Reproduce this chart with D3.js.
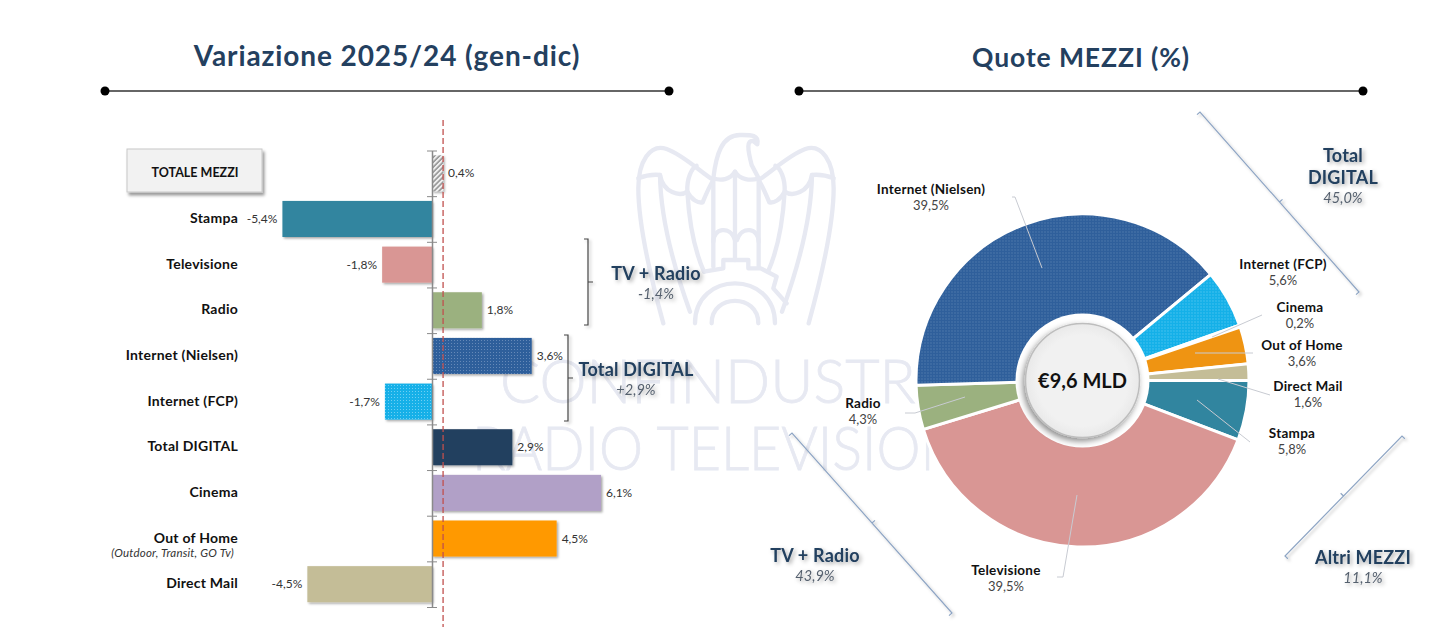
<!DOCTYPE html>
<html lang="it">
<head>
<meta charset="UTF-8">
<title>Variazione 2025/24 e quote mezzi</title>
<script src="https://d3js.org/d3.v7.min.js"></script>
<style>
    html, body { margin: 0; padding: 0; background: #fff; }
    svg { display: block; font-family: Lato, "Open Sans", sans-serif; }
    .cat { font-size: 14px; font-weight: 700; fill: #111; text-anchor: end; letter-spacing: 0.25px; }
    .val { font-size: 12px; fill: #333; }
    .title { font-weight: 700; fill: #24405f; text-anchor: middle; letter-spacing: 0.9px; }
    .grp { font-size: 18px; font-weight: 700; fill: #24405f; text-anchor: middle; letter-spacing: 0.2px; }
    .grpv { font-size: 14.5px; font-style: italic; fill: #55606e; text-anchor: middle; }
    .pname { font-size: 13.5px; font-weight: 700; fill: #111; text-anchor: middle; letter-spacing: 0.25px; }
    .pval { font-size: 13px; fill: #444; text-anchor: middle; }
    .mark { fill: none; stroke: #e7e9f2; stroke-width: 13; stroke-linejoin: round; stroke-linecap: round; }
    .wmtext { font-size: 62px; font-weight: 300; fill: #e7e9f2; stroke: #e7e9f2; stroke-width: 0.8; }
</style>
</head>
<body>
<div id="chart"></div>
<script>
    // left chart
    const categories = ["TOTALE MEZZI", "Stampa", "Televisione", "Radio", "Internet (Nielsen)", "Internet (FCP)", "Total DIGITAL", "Cinema", "Out of Home", "Direct Mail"];
    const variation = [0.4, -5.4, -1.8, 1.8, 3.6, -1.7, 2.9, 6.1, 4.5, -4.5];
    const barColors = ["url(#hatch)", "#31859f", "#d99694", "#9bb17f", "url(#dotsBlue)", "url(#dotsSky)", "#24405f", "#b1a0c7", "#ff9900", "#c4bd97"];

    // right chart
    const pieNames = ["Stampa", "Televisione", "Radio", "Internet (Nielsen)", "Internet (FCP)", "Cinema", "Out of Home", "Direct Mail"];
    const pieShares = [5.8, 39.5, 4.3, 39.5, 5.6, 0.2, 3.6, 1.6];
    const pieColors = ["#31859f", "#d99694", "#9bb17f", "url(#dotsBlue)", "url(#dotsSky)", "#b1a0c7", "#ef9412", "#c4bd97"];
    const pieTotal = "€9,6 MLD";

    const width = 1456, height = 629;
    const fmt = v => String(v.toFixed(1)).replace(".", ",") + "%";

    const svg = d3.select("#chart").append("svg").attr("width", width).attr("height", height);
    const defs = svg.append("defs");

    // soft shadows used all over the slide
    function shadow(id, dx, dy, blur, op) {
        const f = defs.append("filter").attr("id", id)
            .attr("x", "-30%").attr("y", "-30%").attr("width", "170%").attr("height", "170%");
        f.append("feDropShadow").attr("dx", dx).attr("dy", dy).attr("stdDeviation", blur)
            .attr("flood-color", "#000").attr("flood-opacity", op);
    }
    shadow("barShadow", 1.5, 1.5, 1, 0.35);
    shadow("textShadow", 2, 2, 2, 0.35);
    shadow("lineShadow", 2, 2, 1.5, 0.25);
    shadow("boxShadow", 2, 3, 1.5, 0.4);
    shadow("discShadow", -2, 3, 3, 0.45);

    function dots(id, base, light) {
        const p = defs.append("pattern").attr("id", id).attr("patternUnits", "userSpaceOnUse")
            .attr("width", 3).attr("height", 3);
        p.append("rect").attr("width", 3).attr("height", 3).attr("fill", base);
        p.append("rect").attr("x", 1).attr("y", 1).attr("width", 1).attr("height", 1).attr("fill", light);
    }
    dots("dotsBlue", "#2f5f9b", "#6589b8");
    dots("dotsSky", "#14b0e8", "#6ecff3");
    const hatch = defs.append("pattern").attr("id", "hatch").attr("patternUnits", "userSpaceOnUse")
        .attr("width", 3.5).attr("height", 3.5).attr("patternTransform", "rotate(-45)");
    hatch.append("rect").attr("width", 3.5).attr("height", 3.5).attr("fill", "#eee");
    hatch.append("line").attr("x1", 0).attr("x2", 3.5).attr("y1", 1).attr("y2", 1).attr("stroke", "#777").attr("stroke-width", 1.2);

    const discGrad = defs.append("radialGradient").attr("id", "disc");
    discGrad.append("stop").attr("offset", "80%").attr("stop-color", "#f1f1f1");
    discGrad.append("stop").attr("offset", "100%").attr("stop-color", "#e9e9e9");

    // watermark behind everything
    const wm = svg.append("g");
    const eagle = wm.append("g").attr("transform", "translate(630,125) scale(0.3333)");
    const wing = [
        "M100 595 C60 450 25 300 25 190 C25 110 60 55 110 72 C160 90 210 140 250 165",
        "M25 160 C50 150 70 148 90 150 C100 205 150 215 172 200 C170 160 185 130 200 122",
        "M172 200 C185 225 205 235 218 232 C225 215 235 190 250 165",
        "M90 150 C92 300 140 450 180 560",
        "M172 200 C178 300 195 380 222 440",
        "M250 165 L250 425",
        "M250 350 C250 310 300 300 315 345"
    ];
    wing.forEach(d => {
        eagle.append("path").attr("class", "mark").attr("d", d);
        eagle.append("path").attr("class", "mark").attr("d", d).attr("transform", "translate(636,0) scale(-1,1)");
    });
    [
        "M250 160 C258 90 275 30 330 30 C360 30 388 28 382 58 L370 48 C350 45 352 70 365 120 L386 160",
        "M250 160 C272 168 300 165 315 140 C330 165 362 168 386 160",
        "M315 140 L315 405",
        "M222 440 L280 430 L280 405 L355 405 L355 430 L392 430 L440 455 L430 490 L470 535",
        "M195 595 C195 435 435 435 435 595",
        "M245 595 C245 505 385 505 385 595"
    ].forEach(d => eagle.append("path").attr("class", "mark").attr("d", d));
    wm.append("text").attr("class", "wmtext").attr("x", 500).attr("y", 403).attr("textLength", 470).attr("lengthAdjust", "spacingAndGlyphs").text("CONFINDUSTRIA");
    wm.append("text").attr("class", "wmtext").attr("x", 472).attr("y", 470).attr("textLength", 505).attr("lengthAdjust", "spacingAndGlyphs").text("RADIO TELEVISIONI");

    // titles with the dotted rule under them
    [["Variazione 2025/24 (gen-dic)", 387, 66, 105, 669, 28], ["Quote MEZZI (%)", 1081, 67, 799, 1363, 26.5]].forEach(t => {
        svg.append("text").attr("class", "title").attr("x", t[1]).attr("y", t[2]).attr("font-size", t[5]).text(t[0]);
        svg.append("line").attr("x1", t[3]).attr("x2", t[4]).attr("y1", 91).attr("y2", 91)
            .attr("stroke", "#333").attr("stroke-width", 1.5);
        [t[3], t[4]].forEach(cx => svg.append("circle").attr("cx", cx).attr("cy", 91).attr("r", 4.5).attr("fill", "#000"));
    });

    // bars
    const x = d3.scaleLinear().domain([-6, 7]).range([265.8, 625.9]);
    const y = d3.scaleBand().domain(categories).range([150.5, 607]).paddingInner(0.21).paddingOuter(0.105);
    const yEdges = d3.scaleLinear().domain([0, categories.length]).range([150.5, 607]);

    svg.append("g").selectAll("rect").data(categories).join("rect")
        .attr("x", (d, i) => Math.min(x(0), x(variation[i])))
        .attr("y", d => y(d))
        .attr("width", (d, i) => Math.abs(x(variation[i]) - x(0)))
        .attr("height", y.bandwidth())
        .attr("fill", (d, i) => barColors[i])
        .attr("filter", "url(#barShadow)");

    const axis = svg.append("g").attr("transform", `translate(${x(0)},0)`)
        .call(d3.axisLeft(yEdges).tickValues(d3.range(categories.length + 1)).tickSize(5).tickFormat("").tickSizeOuter(0));
    axis.select(".domain").attr("stroke", "#8a8a8a").attr("stroke-width", 1.5);
    axis.selectAll(".tick line").attr("stroke", "#8a8a8a").attr("x2", 5).attr("x1", -5);

    svg.append("line").attr("x1", x(0.4)).attr("x2", x(0.4)).attr("y1", 120).attr("y2", 627)
        .attr("stroke", "#c0504d").attr("stroke-width", 1.3).attr("stroke-dasharray", "6 3");

    svg.append("g").selectAll("text").data(categories).join("text")
        .attr("class", "val")
        .attr("x", (d, i) => x(variation[i]) + (variation[i] < 0 ? -5 : 5))
        .attr("y", d => y(d) + y.bandwidth() / 2 + 4)
        .attr("text-anchor", (d, i) => variation[i] < 0 ? "end" : "start")
        .text((d, i) => fmt(variation[i]));

    svg.append("rect").attr("x", 127).attr("y", 149).attr("width", 135).attr("height", 43)
        .attr("fill", "#f2f2f2").attr("stroke", "#c8c8c8").attr("filter", "url(#boxShadow)");
    svg.append("text").attr("x", 195).attr("y", 177).attr("text-anchor", "middle")
        .attr("font-size", 12.5).attr("font-weight", 700).attr("fill", "#111").text(categories[0]);

    svg.append("g").selectAll("text").data(categories.slice(1)).join("text")
        .attr("class", "cat").attr("x", 238)
        .attr("y", d => y(d) + y.bandwidth() / 2 + 4)
        .text(d => d);
    svg.append("text").attr("x", 234).attr("y", 557).attr("text-anchor", "end")
        .attr("font-size", 11.5).attr("font-style", "italic").attr("fill", "#333").attr("letter-spacing", 0.2).text("(Outdoor, Transit, GO Tv)");

    // brackets next to the bars
    [[588, 239, 325], [568, 335, 421]].forEach(b => {
        const mid = (b[1] + b[2]) / 2;
        svg.append("path").attr("fill", "none").attr("stroke", "#444").attr("stroke-width", 1.2)
            .attr("filter", "url(#lineShadow)")
            .attr("d", `M${b[0] - 4} ${b[1]} H${b[0]} V${b[2]} H${b[0] - 4} M${b[0]} ${mid} H${b[0] + 5}`);
    });

    // donut
    const cx = 1082.5, cy = 380.5;
    const pie = d3.pie().sort(null).startAngle(Math.PI / 2).endAngle(Math.PI * 2.5);
    const arcs = pie(pieShares);
    const arc = d3.arc().innerRadius(60).outerRadius(166.5);
    const donut = svg.append("g").attr("transform", `translate(${cx},${cy})`);
    donut.selectAll("path").data(arcs).join("path")
        .attr("d", arc)
        .attr("fill", (d, i) => pieColors[i])
        .attr("stroke", "#fff").attr("stroke-width", 3);
    donut.append("circle").attr("r", 67).attr("fill", "#fff");
    donut.append("circle").attr("r", 57).attr("fill", "url(#disc)")
        .attr("stroke", "#bdbdbd").attr("stroke-width", 1.5).attr("filter", "url(#discShadow)");
    donut.append("text").attr("y", 7).attr("text-anchor", "middle")
        .attr("font-size", 20).attr("font-weight", 700).attr("fill", "#111").text(pieTotal);

    // where the slide puts each pie label and its leader
    const pieLabelSpots = {
        "Stampa": { x: 1292, y: 438, line: [[1197, 400], [1250, 442]] },
        "Televisione": { x: 1006, y: 575, line: [[1077, 495], [1063, 577], [1057, 577]] },
        "Radio": { x: 863, y: 408, line: [[965, 397], [915, 413], [905, 413]] },
        "Internet (Nielsen)": { x: 931, y: 194, line: [[1042, 268], [1015, 197], [1012, 197]] },
        "Internet (FCP)": { x: 1283, y: 269 },
        "Cinema": { x: 1300, y: 312, line: [[1212, 337], [1262, 315]] },
        "Out of Home": { x: 1302, y: 350, line: [[1195, 353], [1253, 353]] },
        "Direct Mail": { x: 1308, y: 391, line: [[1218, 379], [1270, 395]] }
    };
    pieNames.forEach((name, i) => {
        const s = pieLabelSpots[name];
        if (s.line) {
            svg.append("path").attr("fill", "none").attr("stroke", "#c8cbd2").attr("stroke-width", 1)
                .attr("d", d3.line()(s.line));
        }
        svg.append("text").attr("class", "pname").attr("x", s.x).attr("y", s.y).text(name);
        svg.append("text").attr("class", "pval").attr("x", s.x).attr("y", s.y + 16).text(fmt(pieShares[i]));
    });

    // group annotations
    [
        [[["TV + Radio"]], "-1,4%", 656, 280],
        [[["Total DIGITAL"]], "+2,9%", 636, 376],
        [[["Total"], ["DIGITAL"]], "45,0%", 1343, 162],
        [[["TV + Radio"]], "43,9%", 815, 562],
        [[["Altri MEZZI"]], "11,1%", 1363, 564]
    ].forEach(g => {
        const lab = svg.append("g");
        g[0].forEach((l, i) => lab.append("text").attr("class", "grp")
            .attr("x", g[2]).attr("y", g[3] + i * 22).attr("filter", "url(#textShadow)").text(l[0]));
        lab.append("text").attr("class", "grpv").attr("x", g[2]).attr("y", g[3] + (g[0].length - 1) * 22 + 19)
            .attr("filter", "url(#textShadow)").text(g[1]);
    });

    // diagonal rules around the donut, small hooks at the ends
    [[1200, 112, 1359, 292, -1], [792, 433, 952, 613, -1], [1402, 436, 1285, 556, 1]].forEach(l => {
        const mx = (l[0] + l[2]) / 2, my = (l[1] + l[3]) / 2;
        const len = Math.hypot(l[2] - l[0], l[3] - l[1]);
        const nx = (l[1] - l[3]) / len * 4 * l[4], ny = (l[2] - l[0]) / len * 4 * l[4];
        svg.append("path").attr("fill", "none").attr("stroke", "#8ea5c4").attr("stroke-width", 1.2)
            .attr("filter", "url(#lineShadow)")
            .attr("d", `M${l[0] - nx} ${l[1] - ny} L${l[0]} ${l[1]} L${l[2]} ${l[3]} L${l[2] - nx} ${l[3] - ny} M${mx} ${my} L${mx + nx} ${my + ny}`);
    });
</script>
</body>
</html>
